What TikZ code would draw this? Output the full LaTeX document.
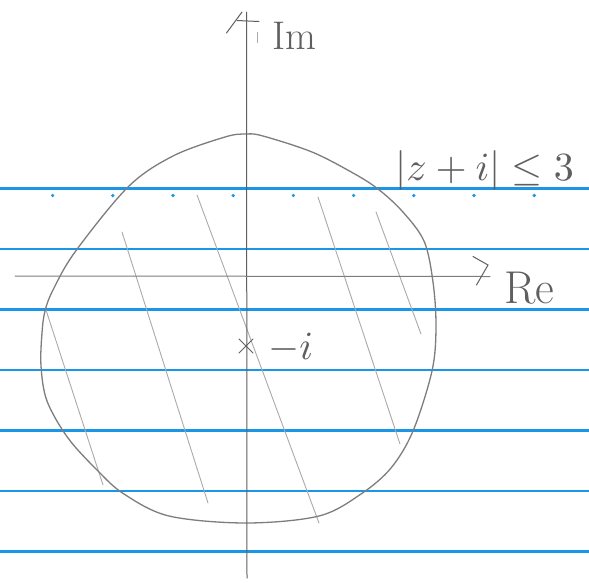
\documentclass[tikz,border=0pt]{standalone}
\usepackage{graphicx}
\usetikzlibrary{calc}
\begin{document}
\begin{tikzpicture}[x=1pt,y=-1pt,
  ruled/.style={draw=paperblue,line width=2.6pt},
  pencil/.style={draw=axisgray,line width=1pt,line cap=round},
  outline/.style={draw=circgray,line width=1.3pt,line cap=round,line join=round},
  hatch/.style={draw=hatchgray,line width=0.9pt,line cap=round},
  hand/.style={text=textgray,inner sep=0pt}]
\definecolor{paperblue}{RGB}{25,150,232}
\definecolor{axisgray}{RGB}{95,95,95}
\definecolor{circgray}{RGB}{125,125,125}
\definecolor{hatchgray}{RGB}{170,170,170}
\definecolor{textgray}{RGB}{95,95,95}
\useasboundingbox (0,0) rectangle (589,582);
\fill[white] (0,0) rectangle (589,582);
% ruled lines
\foreach \k in {0,...,6}{
  \draw[ruled] (0,{188.5+60.5*\k}) -- (589,{188.5+60.5*\k});
}
\foreach \k in {0,...,8}{
  \fill[paperblue] ({52.6+60.2*\k},195.5) circle (1.8);
}
% hatching
\draw[hatch] (46,310) -- (103,485);
\draw[hatch] (122,232) -- (208,503);
\draw[hatch] (197,195) -- (319,523);
\draw[hatch] (318,197) -- (400,444);
\draw[hatch] (376,212) -- (421,334);
% circle
\draw[outline] plot[smooth cycle,tension=0.55] coordinates {
 (246,134) (263,136) (312,152) (353,173) (378,189) (402,211) (424,241)
 (433,282) (436,327) (432,371) (413,431) (391,468) (361,494) (319,516)
 (246,523) (169,516) (124,494) (98,471) (68,438) (47,401) (41,366)
 (42,333) (45,311) (53,290) (75,252) (128,187) (173,156) (225,137)};
% axes
\coordinate (imtop) at (246.5,12);
\coordinate (imbot) at (247,578);
\coordinate (releft) at (15,276);
\coordinate (reright) at (490,276.5);
\draw[pencil] (imbot) -- (imtop);
\draw[pencil] (226.5,33) -- (242,12);
\draw[pencil] (237,20.5) -- (259,21.5);
\draw[draw=hatchgray,line width=0.9pt] (257,32) -- (257,43);
\draw[pencil,draw=circgray] (releft) -- (reright);
\draw[pencil] (473,256.5) -- (488,265) -- (476.5,285);
% centre mark
\coordinate (c) at (246,346);
\draw[pencil] ($(c)+(-7,-7)$) -- ($(c)+(7,7)$);
\draw[pencil] ($(c)+(-7,7)$) -- ($(c)+(7,-7)$);
% labels
\node[hand,anchor=base west,font=\fontsize{40}{44}\selectfont] (im) at (272,49) {Im};
\node[hand,anchor=base west,font=\fontsize{46}{50}\selectfont] (re) at (504,303) {Re};
\node[hand,anchor=base west] (mi) at (268,359) {\scalebox{4}{$-i$}};
\node[hand,anchor=base west] (lab) at (395,180) {\scalebox{4}{$|z+i|\leq 3$}};
\end{tikzpicture}
\end{document}
